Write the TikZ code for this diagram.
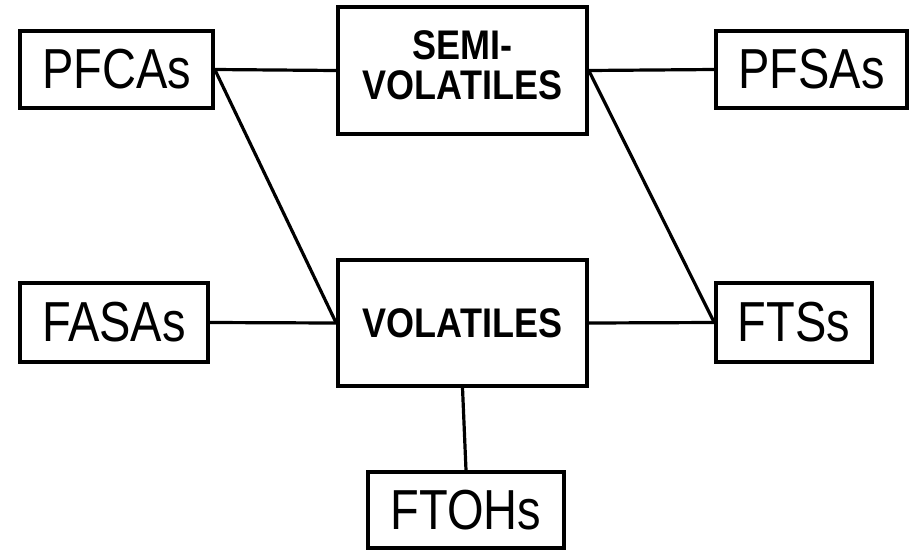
\documentclass[tikz,border=0pt]{standalone}
\usepackage{fontspec}
\setmainfont{Liberation Sans}
\begin{document}
\begin{tikzpicture}[x=1pt,y=-1pt,
  box/.style={draw=black,line width=3.6pt,rectangle,inner sep=0pt,fill=white},
  plain/.style={font=\fontsize{47}{50}\selectfont},
  heavy/.style={font=\fontsize{36}{33}\selectfont\bfseries},
  link/.style={draw=black,line width=3.2pt}]
\useasboundingbox[fill=white] (0,0) rectangle (918,550);
\node[box,plain,minimum width=193pt,minimum height=77pt] (pfca) at (116.5,69.5) {\scalebox{1}[1.2]{PFCAs}};
\node[box,heavy,minimum width=249pt,minimum height=127pt] (semi) at (462.5,70.5) {\scalebox{1}[1.15]{\begin{tabular}{@{}c@{}}SEMI-\\VOLATILES\end{tabular}}};
\node[box,plain,minimum width=191pt,minimum height=77pt] (pfsa) at (811.5,69.5) {\scalebox{1}[1.2]{PFSAs}};
\node[box,plain,minimum width=188pt,minimum height=79pt] (fasa) at (114,322.5) {\scalebox{1}[1.2]{FASAs}};
\node[box,heavy,minimum width=249pt,minimum height=126pt] (vol) at (462.5,323) {\scalebox{1}[1.15]{VOLATILES}};
\node[box,plain,minimum width=156pt,minimum height=79pt] (fts) at (794,322.5) {\scalebox{1}[1.2]{FTSs}};
\node[box,plain,minimum width=196pt,minimum height=76pt] (ftoh) at (466,510) {\scalebox{1}[1.2]{FTOHs}};
\draw[link] (pfca.east) -- (semi.west);
\draw[link] (pfca.east) -- (vol.west);
\draw[link] (semi.east) -- (pfsa.west);
\draw[link] (semi.east) -- (fts.west);
\draw[link] (fasa.east) -- (vol.west);
\draw[link] (vol.east) -- (fts.west);
\draw[link] (vol.south) -- (ftoh.north);
\end{tikzpicture}
\end{document}
